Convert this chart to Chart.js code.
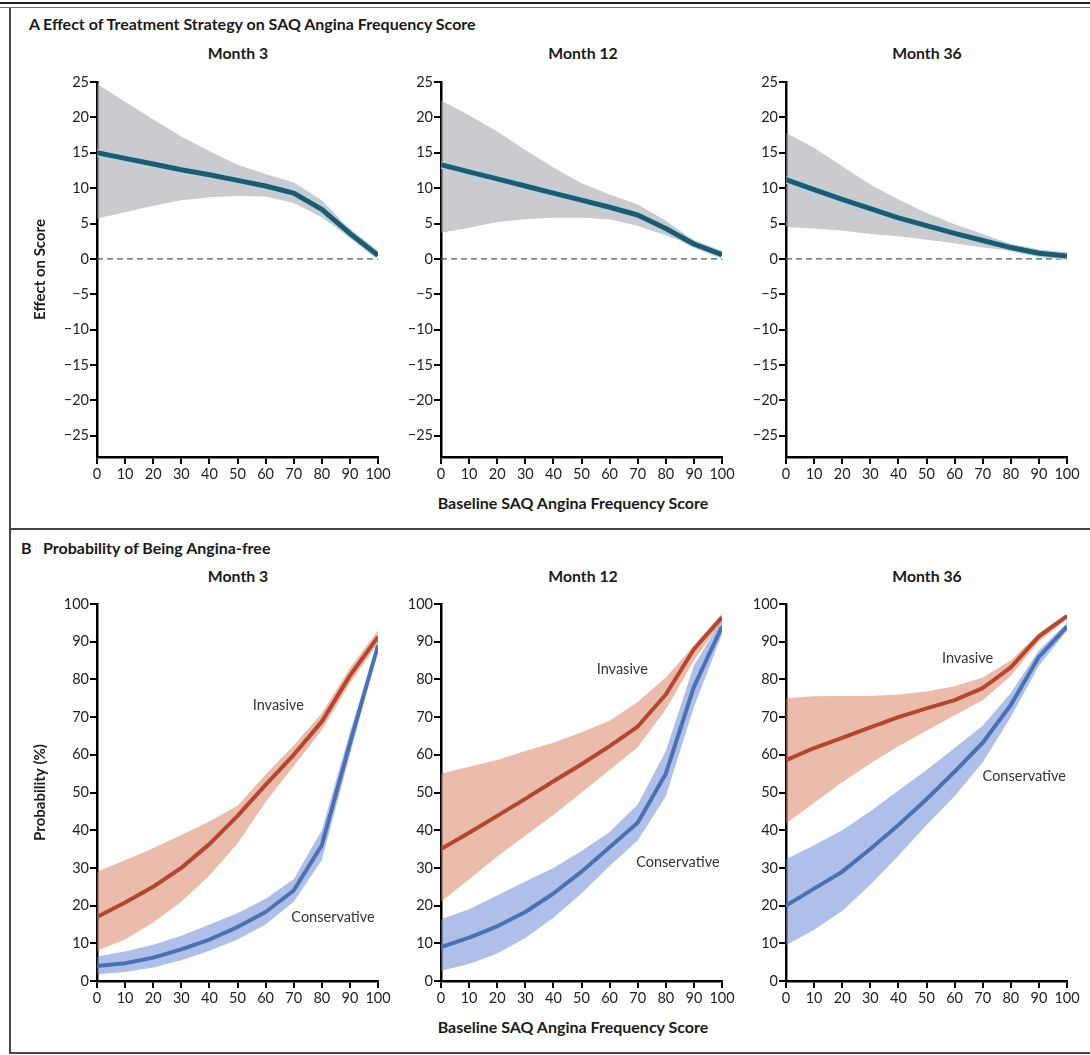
<!DOCTYPE html>
<html>
<head>
<meta charset="utf-8">
<script src="https://cdn.jsdelivr.net/npm/chart.js@4.4.1/dist/chart.umd.min.js"></script>
<style>
html, body { margin: 0; padding: 0; background: #fff; }
body { width: 1090px; height: 1055px; position: relative; overflow: hidden; font-family: Lato, "Open Sans", sans-serif; color: #1a1a1a; }
.t { position: absolute; white-space: nowrap; font-weight: bold; }
.c { transform: translate(-50%, -50%); }
.rule { position: absolute; }
canvas { position: absolute; }
</style>
</head>
<body>

<div class="rule" style="left:0;top:2px;width:1090px;height:2px;background:#222"></div>
<div class="rule" style="left:0;top:7px;width:1090px;height:1px;background:#777"></div>
<div class="rule" style="left:9px;top:8px;width:1.5px;height:1046px;background:#444"></div>
<div class="rule" style="left:9px;top:528px;width:1081px;height:2px;background:#444"></div>
<div class="rule" style="left:9px;top:1052px;width:1081px;height:2px;background:#444"></div>

<div class="t" style="left:29px;top:14px;font-size:16px">A</div>
<div class="t" style="left:43px;top:14px;font-size:16px">Effect of Treatment Strategy on SAQ Angina Frequency Score</div>
<div class="t c" style="left:238px;top:52px;font-size:15.8px">Month 3</div>
<div class="t c" style="left:583px;top:52px;font-size:15.8px">Month 12</div>
<div class="t c" style="left:927px;top:52px;font-size:15.8px">Month 36</div>
<div class="t c" style="left:573px;top:502px;font-size:16px">Baseline SAQ Angina Frequency Score</div>

<div class="t" style="left:21px;top:538px;font-size:16px">B</div>
<div class="t" style="left:43px;top:538px;font-size:16px">Probability of Being Angina-free</div>
<div class="t c" style="left:238px;top:575px;font-size:15.8px">Month 3</div>
<div class="t c" style="left:583px;top:575px;font-size:15.8px">Month 12</div>
<div class="t c" style="left:927px;top:575px;font-size:15.8px">Month 36</div>
<div class="t c" style="left:573px;top:1026px;font-size:16px">Baseline SAQ Angina Frequency Score</div>

<canvas id="a1"></canvas>
<canvas id="a2"></canvas>
<canvas id="a3"></canvas>
<canvas id="b1"></canvas>
<canvas id="b2"></canvas>
<canvas id="b3"></canvas>

<script>
// baseline SAQ angina frequency score (x)
const xs = [0, 10, 20, 30, 40, 50, 60, 70, 80, 90, 100];
const zeroX = [0, 100];
const zeroY = [0, 0];

// Panel A: effect on score (estimate, upper and lower limits)
const effM3   = [15, 14.2, 13.4, 12.6, 11.9, 11.1, 10.3, 9.3, 7, 3.6, 0.5];
const effM3Hi = [24.7, 22.2, 19.7, 17.3, 15.2, 13.3, 12.0, 10.8, 8.3, 4.2, 0.8];
const effM3Lo = [5.7, 6.6, 7.5, 8.3, 8.7, 8.9, 8.8, 7.9, 5.9, 3.0, 0.3];
const effM12   = [13.3, 12.3, 11.3, 10.3, 9.3, 8.3, 7.3, 6.2, 4.3, 2.1, 0.6];
const effM12Hi = [22.4, 20.3, 18.0, 15.4, 12.9, 10.7, 9.1, 7.7, 5.4, 2.6, 0.8];
const effM12Lo = [3.7, 4.4, 5.2, 5.6, 5.8, 5.8, 5.6, 4.7, 3.3, 1.9, 0.4];
const effM36   = [11.2, 9.8, 8.4, 7.1, 5.8, 4.7, 3.6, 2.6, 1.6, 0.8, 0.4];
const effM36Hi = [17.8, 15.7, 13.1, 10.5, 8.4, 6.5, 4.9, 3.5, 2.1, 0.9, 0.5];
const effM36Lo = [4.5, 4.3, 4.0, 3.5, 3.2, 2.7, 2.2, 1.6, 1.2, 0.6, 0.3];
const effTicks = [-25, -20, -15, -10, -5, 0, 5, 10, 15, 20, 25];

// Panel B: probability of being angina-free (%)
const invM3   = [17, 20.8, 25, 30, 36.3, 43.8, 52, 60, 68.8, 81, 91.3];
const invM3Hi = [29, 32, 35.2, 38.7, 42.3, 46.5, 54.8, 62.5, 71, 83, 93];
const invM3Lo = [8, 11, 15.5, 21, 28, 36.5, 47.5, 57, 66.5, 79, 89.5];
const conM3   = [4, 4.7, 6.2, 8.4, 11, 14.3, 18.3, 24, 36, 63, 89];
const conM3Hi = [6.5, 7.8, 9.6, 12, 15, 18, 21.8, 27, 40, 66, 90];
const conM3Lo = [1.8, 2.4, 3.6, 5.5, 8, 11, 15, 21, 32, 60, 88];

const invM12   = [35, 39.3, 43.8, 48.3, 53, 57.5, 62.3, 67.5, 76, 88, 96.5];
const invM12Hi = [55, 56.8, 58.6, 61, 63.2, 66, 69, 74, 80.5, 89, 97.5];
const invM12Lo = [21, 27, 33, 38.5, 44, 50, 56, 62, 72, 85, 95.5];
const conM12   = [9, 11.5, 14.5, 18.3, 23.2, 29, 35.5, 42, 55, 78, 94];
const conM12Hi = [16.4, 19, 22.7, 26.4, 30, 34.5, 39.5, 46.8, 61, 83.6, 96];
const conM12Lo = [2.7, 4.5, 7.3, 11.4, 16.8, 23.2, 30.5, 37.3, 49, 72.7, 92];

const invM36   = [58.6, 61.8, 64.5, 67.3, 70, 72.3, 74.5, 77.7, 83.2, 91.4, 96.8];
const invM36Hi = [75, 75.5, 75.6, 75.6, 76, 76.8, 78.2, 80.5, 85, 92.3, 97.5];
const invM36Lo = [41.8, 47.3, 52.7, 57.7, 62.3, 66.4, 70.5, 74.5, 81, 90, 96];
const conM36   = [20, 24.5, 29, 35, 41.4, 48.2, 55.5, 63.2, 73.2, 86, 94];
const conM36Hi = [32.3, 36, 40, 45, 50.5, 56, 61.8, 67.7, 76.4, 87.7, 95];
const conM36Lo = [9.5, 13.6, 18.6, 25.5, 33.2, 41.4, 49, 58, 70, 83.6, 93];

// curve labels: [text, x, y] in data units
const labelsM3  = [['Invasive', 64.5, 73], ['Conservative', 84, 17]];
const labelsM12 = [['Invasive', 64.5, 82.7], ['Conservative', 84.3, 31.4]];
const labelsM36 = [['Invasive', 64.6, 85.5], ['Conservative', 84.8, 54.4]];

// layout
const plotLefts = [97, 441, 786];
const plotW = 281;
const YW = 66, PADT = 12, PADR = 22, XH = 32;
const FONT = 'Lato, "Open Sans", sans-serif';

const pts = (ys, xv = xs) => ys.map((y, i) => ({x: xv[i], y: y}));
const fmt = v => v < 0 ? '\u2212' + Math.abs(v) : String(v);

const curveLabels = {
    id: 'curveLabels',
    afterDatasetsDraw(chart, args, opts) {
        if (!opts.items) return;
        const ctx = chart.ctx;
        ctx.save();
        ctx.font = '14.5px ' + FONT;
        ctx.fillStyle = '#333';
        ctx.textAlign = 'center';
        ctx.textBaseline = 'middle';
        opts.items.forEach(([txt, x, y]) => {
            ctx.fillText(txt, chart.scales.x.getPixelForValue(x), chart.scales.y.getPixelForValue(y));
        });
        ctx.restore();
    }
};
Chart.register(curveLabels);

function band(lo, hi, color) {
    return [
        {data: pts(lo), borderWidth: 0, pointRadius: 0, fill: false, order: 5},
        {data: pts(hi), borderWidth: 0, pointRadius: 0, fill: '-1', backgroundColor: color, order: 5}
    ];
}

function line(ys, color, width, order = 1) {
    return {data: pts(ys), borderColor: color, borderWidth: width, pointRadius: 0, fill: false, order: order};
}

function makeChart(id, col, top, plotH, yMin, yMax, yTicks, yTitle, datasets, labels) {
    const el = document.getElementById(id);
    const w = YW + plotW + PADR, h = PADT + plotH + XH;
    el.width = w; el.height = h;
    el.style.left = (plotLefts[col] - YW) + 'px';
    el.style.top = (top - PADT) + 'px';
    datasets.forEach(d => { d.tension = 0; d.borderJoinStyle = 'round'; });
    return new Chart(el, {
        type: 'line',
        data: {datasets: datasets},
        options: {
            responsive: false,
            animation: false,
            events: [],
            layout: {padding: {top: PADT, right: PADR, left: 0, bottom: 0}},
            plugins: {
                legend: {display: false},
                tooltip: {enabled: false},
                curveLabels: {items: labels}
            },
            scales: {
                x: {
                    type: 'linear', min: 0, max: 100,
                    afterFit: s => { s.height = XH; },
                    border: {display: true, color: '#000', width: 2.5},
                    grid: {display: true, drawOnChartArea: false, drawTicks: true, tickLength: 7, color: '#000', lineWidth: 2},
                    ticks: {stepSize: 10, autoSkip: false, maxRotation: 0, padding: 2, color: '#222', font: {family: FONT, size: 14.5}}
                },
                y: {
                    type: 'linear', min: yMin, max: yMax,
                    afterFit: s => { s.width = YW; },
                    afterBuildTicks: s => { s.ticks = yTicks.map(v => ({value: v})); },
                    border: {display: true, color: '#000', width: 2.5},
                    grid: {display: true, drawOnChartArea: false, drawTicks: true, tickLength: 7, color: '#000', lineWidth: 2},
                    ticks: {padding: 1, color: '#222', font: {family: FONT, size: 14.5}, callback: v => fmt(v)},
                    title: {display: !!yTitle, text: yTitle || '', color: '#1a1a1a', padding: 0, font: {family: FONT, size: 15, weight: 'bold'}}
                }
            }
        }
    });
}

// Panel A
const TEAL = '#24596b', TEAL_EDGE = '#a6d9ec', GREY = 'rgba(150,150,160,0.5)';
function panelA(lo, hi, est) {
    return [
        line(est, TEAL, 5, 0),
        line(est, TEAL_EDGE, 7.5, 1),
        {data: pts(zeroY, zeroX), borderColor: '#555', borderWidth: 1.3, borderDash: [6, 4], pointRadius: 0, fill: false, order: 3},
        ...band(lo, hi, GREY)
    ];
}
const aTop = 82, aH = 375;
makeChart('a1', 0, aTop, aH, -28, 25, effTicks, 'Effect on Score', panelA(effM3Lo, effM3Hi, effM3), []);
makeChart('a2', 1, aTop, aH, -28, 25, effTicks, null, panelA(effM12Lo, effM12Hi, effM12), []);
makeChart('a3', 2, aTop, aH, -28, 25, effTicks, null, panelA(effM36Lo, effM36Hi, effM36), []);

// Panel B
const RED = '#b3472f', RED_BAND = 'rgba(215,120,90,0.5)';
const BLUE = '#4a72b2', BLUE_BAND = 'rgba(95,128,212,0.5)';
const probTicks = [0, 10, 20, 30, 40, 50, 60, 70, 80, 90, 100];
function panelB(iLo, iHi, inv, cLo, cHi, con) {
    return [
        line(inv, RED, 4, 0),
        line(con, BLUE, 4, 0),
        ...band(iLo, iHi, RED_BAND),
        ...band(cLo, cHi, BLUE_BAND)
    ];
}
const bTop = 604, bH = 377;
makeChart('b1', 0, bTop, bH, 0, 100, probTicks, 'Probability (%)', panelB(invM3Lo, invM3Hi, invM3, conM3Lo, conM3Hi, conM3), labelsM3);
makeChart('b2', 1, bTop, bH, 0, 100, probTicks, null, panelB(invM12Lo, invM12Hi, invM12, conM12Lo, conM12Hi, conM12), labelsM12);
makeChart('b3', 2, bTop, bH, 0, 100, probTicks, null, panelB(invM36Lo, invM36Hi, invM36, conM36Lo, conM36Hi, conM36), labelsM36);
</script>
</body>
</html>
